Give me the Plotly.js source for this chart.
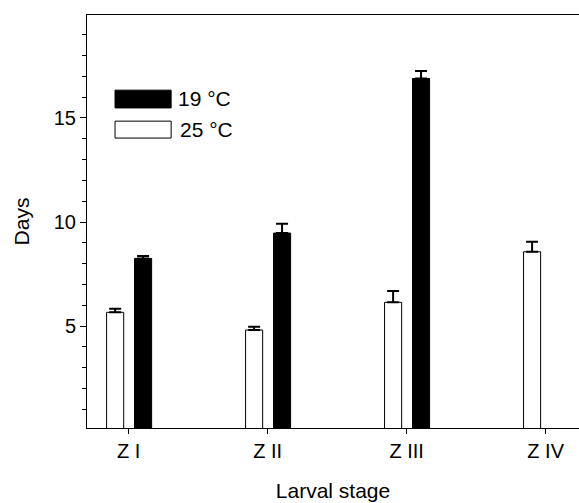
<!DOCTYPE html>
<html>
<head>
<meta charset="utf-8">
<script src="https://cdn.plot.ly/plotly-3.0.1.min.js"></script>
<style>html,body{margin:0;padding:0;background:#fff;overflow:hidden}</style>
</head>
<body>
<div id="chart" style="width:579px;height:503px"></div>
<script>
const stages = ["Z I", "Z II", "Z III", "Z IV"];
const days25 = [5.66, 4.81, 6.14, 8.57];
const err25 = [0.17, 0.16, 0.54, 0.48];
const days19 = [8.25, 9.47, 16.9, null];
const err19 = [0.12, 0.45, 0.36, null];
const legendLabels = ["19 °C", "25 °C"];

const font = {family: "Liberation Sans, Arial, sans-serif", size: 20, color: "#000"};
const titleFont = {family: "Liberation Sans, Arial, sans-serif", size: 21, color: "#000"};

const traces = [
  {
    type: "bar", name: legendLabels[1], x: stages, y: days25,
    width: 0.123, offset: -0.159,
    marker: {color: "#fff", line: {color: "#000", width: 1}},
    error_y: {type: "data", symmetric: false, array: err25, arrayminus: [0,0,0,0], color: "#000", thickness: 2, width: 6},
    showlegend: false
  },
  {
    type: "bar", name: legendLabels[0], x: stages, y: days19,
    width: 0.123, offset: 0.042,
    marker: {color: "#000", line: {color: "#000", width: 1}},
    error_y: {type: "data", symmetric: false, array: err19, arrayminus: [0,0,0,0], color: "#000", thickness: 2, width: 6},
    showlegend: false
  }
];

const layout = {
  width: 579, height: 503,
  margin: {l: 87, r: 0, t: 15, b: 75},
  paper_bgcolor: "#fff", plot_bgcolor: "#fff",
  font: font,
  barmode: "overlay",
  xaxis: {
    type: "category", range: [-0.3, 3.24],
    showline: true, linecolor: "#000", linewidth: 1, mirror: true,
    ticks: "outside", ticklen: 5, tickcolor: "#000",
    showgrid: false, zeroline: false,
    tickfont: font,
    title: {text: "Larval stage", font: titleFont, standoff: 22}
  },
  yaxis: {
    range: [0.1, 19.95], dtick: 5, tick0: 0,
    showline: true, linecolor: "#000", linewidth: 1, mirror: false,
    ticks: "outside", ticklen: 6, tickcolor: "#000",
    minor: {dtick: 1, ticks: "outside", ticklen: 4, tickcolor: "#000"},
    showgrid: false, zeroline: false,
    tickfont: font,
    title: {text: "Days", font: titleFont, standoff: 18}
  },
  shapes: [
    {type: "rect", xref: "paper", yref: "paper", x0: 0.057, x1: 0.171, y0: 0.775, y1: 0.818,
     fillcolor: "#000", line: {color: "#000", width: 1}},
    {type: "rect", xref: "paper", yref: "paper", x0: 0.057, x1: 0.171, y0: 0.702, y1: 0.743,
     fillcolor: "#fff", line: {color: "#000", width: 1}}
  ],
  annotations: [
    {xref: "paper", yref: "paper", x: 0.181, y: 0.797, xanchor: "left", yanchor: "middle",
     text: legendLabels[0], showarrow: false, font: titleFont},
    {xref: "paper", yref: "paper", x: 0.185, y: 0.722, xanchor: "left", yanchor: "middle",
     text: legendLabels[1], showarrow: false, font: titleFont}
  ]
};

Plotly.newPlot("chart", traces, layout, {displayModeBar: false, staticPlot: true});
</script>
</body>
</html>
